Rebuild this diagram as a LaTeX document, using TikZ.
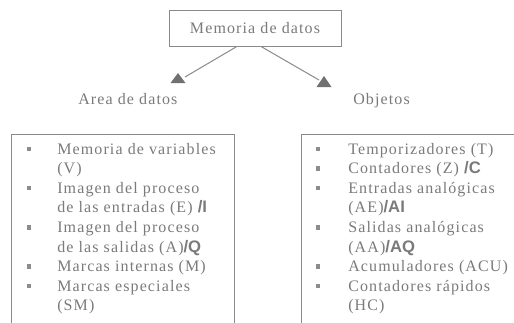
\documentclass[tikz,border=0pt]{standalone}
\usepackage{fontspec}
\setmainfont{Liberation Serif}[LetterSpace=7]
\newfontfamily\boldsans{Liberation Sans}[BoldFont={Liberation Sans Bold}]
\usetikzlibrary{calc}
\definecolor{txt}{HTML}{7A7A7A}
\definecolor{linec}{HTML}{8A8A8A}
\definecolor{tric}{HTML}{707070}
\definecolor{bulc}{HTML}{8C8C8C}
\newcommand\slb[1]{{\fontsize{12.5}{13}\boldsans\bfseries #1}}
\begin{document}
\begin{tikzpicture}[x=0.75pt,y=-0.75pt,
  lbl/.style={anchor=base west, inner sep=0pt, text=txt, font=\fontsize{12}{13}\selectfont},
  bul/.style={fill=bulc, minimum size=3.3pt, inner sep=0pt},
  frame/.style={draw=linec, line width=0.75pt},
  conn/.style={draw=linec, line width=0.75pt},
  tri/.style={fill=tric}]
\useasboundingbox (0,0) rectangle (514,322);
% top box
\node[frame, minimum width=129pt, minimum height=27pt, inner sep=0pt, text=txt,
      font=\fontsize{12}{13}\selectfont] (mem) at (255,28) {Memoria de datos};
% triangles
\coordinate (el) at (185,77);
\coordinate (er) at (319,80);
\fill[tri] (170.5,83) -- (178,73) -- (185.5,83) -- cycle;
\fill[tri] (316.5,87) -- (324,76) -- (331.5,87) -- cycle;
\draw[conn] ($(mem.south west)!0.395!(mem.south east)$) -- (el);
\draw[conn] ($(mem.south west)!0.535!(mem.south east)$) -- (er);
% labels
\node[lbl] (area) at (78,104) {Area de datos};
\node[lbl] (obj) at (353,104) {Objetos};
% frames
\draw[frame] (11,323) -- (11,134) -- (234,134) -- (234,323);
\draw[frame] (301,323) -- (301,134) -- (515,134);
% left list
\foreach \t [count=\i] in {Memoria de variables, (V), Imagen del proceso,
  {de las entradas (E) \slb{/I}}, Imagen del proceso, {de las salidas (A)\slb{/Q}},
  Marcas internas (M), Marcas especiales, (SM)}
  \node[lbl] (l\i) at (57,{154+19.6*(\i-1)}) {\t};
\foreach \i in {1,3,5,7,8}
  \node[bul] (bl\i) at (29,{154+19.6*(\i-1)-5}) {};
% right list
\foreach \t [count=\i] in {Temporizadores (T), {Contadores (Z) \slb{/C}}, Entradas analógicas,
  {(AE)\slb{/AI}}, Salidas analógicas, {(AA)\slb{/AQ}},
  Acumuladores (ACU), Contadores rápidos, (HC)}
  \node[lbl] (r\i) at (348,{154+19.6*(\i-1)}) {\t};
\foreach \i in {1,2,3,5,7,8}
  \node[bul] (br\i) at (318,{154+19.6*(\i-1)-5}) {};
\end{tikzpicture}
\end{document}
